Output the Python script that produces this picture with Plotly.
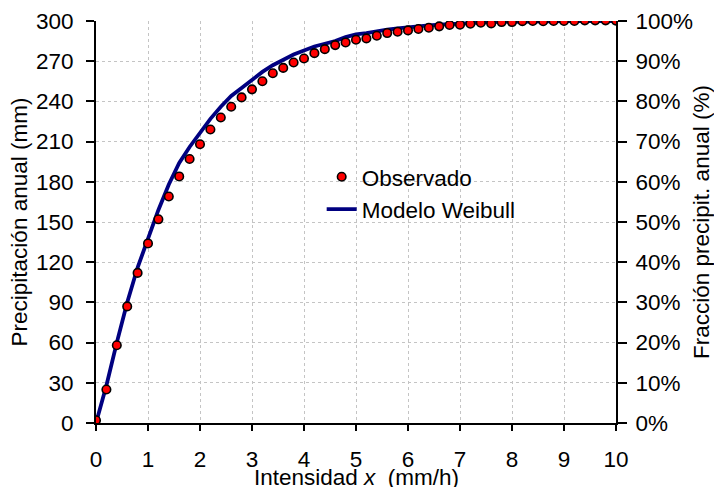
import plotly.graph_objects as go

# Observed data (x step 0.2 mm/h)
x_obs = [round(0.2 * i, 1) for i in range(51)]
y_obs = [2, 25, 58, 87, 112, 134, 152, 169, 184, 197,
         208, 219, 228, 236, 243, 249, 255, 261, 265, 269,
         272, 276, 279, 282, 284, 286, 287, 289, 291, 292,
         293, 294, 295, 296, 297, 297.2, 298, 298.7, 298.2, 299.2,
         299.2, 299.9, 300, 299.8, 300, 300, 300, 300.5, 300.5, 300.5, 300.3]

# Weibull model curve
x_mod = x_obs
y_mod = [0, 28, 60, 90, 116, 138, 159, 178, 194, 206,
         217, 227, 236, 244, 250, 256, 262, 267, 271, 275,
         278, 281, 283, 285, 288, 290, 291, 292.5, 293.5, 294.5,
         295.5, 296, 296.8, 297.3, 297.8, 298.2, 298.6, 298.9, 299.2, 299.4,
         299.6, 299.7, 299.75, 299.8, 299.85, 299.9, 299.92, 299.94, 299.96, 299.98, 300]

y_ticks = list(range(0, 301, 30))
x_ticks = list(range(0, 11))
pct_ticks = [i / 10 for i in range(11)]
pct_labels = [f"{i*10}%" for i in range(11)]

FONT = "Liberation Sans, Arial, sans-serif"
FS = 22.5

fig = go.Figure()
fig.add_trace(go.Scatter(
    x=x_mod, y=y_mod, mode="lines", name="Modelo Weibull",
    line=dict(color="#000080", width=3.8)))
fig.add_trace(go.Scatter(
    x=x_obs, y=y_obs, mode="markers", name="Observado",
    marker=dict(color="#ff0000", size=8.5, line=dict(color="black", width=1.6))))
fig.add_trace(go.Scatter(x=[None], y=[None], yaxis="y2", showlegend=False,
                         hoverinfo="skip"))

grid = dict(showgrid=True, gridcolor="#c4c4c4", griddash="dot", gridwidth=1)

fig.update_layout(
    width=714, height=487,
    margin=dict(l=95.5, r=97.5, t=21, b=63.5),
    paper_bgcolor="white", plot_bgcolor="white",
    font=dict(family=FONT, size=FS, color="black"),
    showlegend=True,
    legend=dict(x=0.434, y=0.665, xanchor="left", yanchor="top",
                bgcolor="rgba(0,0,0,0)", font=dict(size=FS),
                traceorder="reversed", itemwidth=30, tracegroupgap=0),
    xaxis=dict(range=[0, 10], tickvals=x_ticks, ticks="outside", ticklen=6,
               tickwidth=2, tickcolor="black", showline=True, linecolor="black",
               linewidth=2, zeroline=False, automargin=False, **grid,
               ticklabelstandoff=9),
    yaxis=dict(range=[0, 300], tickvals=y_ticks, ticks="outside", ticklen=8,
               tickwidth=2, tickcolor="black", showline=True, linecolor="black",
               linewidth=2, zeroline=False, automargin=False, **grid,
               ticklabelstandoff=8,
               title=dict(text="Precipitación anual (mm)", standoff=2,
                          font=dict(size=FS))),
    yaxis2=dict(range=[0, 1], overlaying="y", side="right", tickvals=pct_ticks,
                ticktext=pct_labels, ticks="outside", ticklen=9, tickwidth=2,
                tickcolor="black", showline=True, linecolor="black", linewidth=2,
                showgrid=False, zeroline=False, automargin=False,
                ticklabelstandoff=4,
                title=dict(text="Fracción precipit. anual (%)", standoff=10,
                           font=dict(size=FS))),
    annotations=[dict(text="Intensidad <i>x</i>  (mm/h)", xref="paper", yref="paper",
                      x=0.5, y=-0.099, xanchor="center", yanchor="top",
                      showarrow=False, font=dict(size=FS))],
)

fig.write_html("out.html")
